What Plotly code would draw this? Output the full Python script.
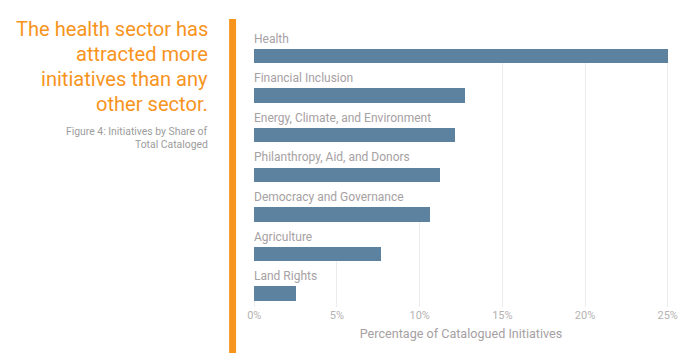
import plotly.graph_objects as go

categories = ["Health", "Financial Inclusion", "Energy, Climate, and Environment",
              "Philanthropy, Aid, and Donors", "Democracy and Governance",
              "Agriculture", "Land Rights"]
values = [25.0, 12.75, 12.15, 11.2, 10.65, 7.65, 2.55]
tick_vals = [0, 5, 10, 15, 20, 25]
tick_text = ["0%", "5%", "10%", "15%", "20%", "25%"]

title_lines = ["The health sector has", "attracted more", "initiatives than any", "other sector."]
caption_lines = ["Figure 4: Initiatives by Share of", "Total Cataloged"]

W, H = 690, 360
ML, MR, MT, MB = 251, 17, 49, 53
PW, PH = W - ML - MR, H - MT - MB

BAR_COLOR = "#5c829f"
LABEL_COLOR = "#a6a1a3"
TICK_COLOR = "#b5b2b2"
ORANGE = "#f7941d"
GRID = "#ececec"

n = len(categories)
pos = [n - 1 - i for i in range(n)]
bar_w = 0.366
xmin, xmax = -0.2, 25.2
ymin, ymax = -0.341, (n - 1) + 0.177

fig = go.Figure()
# white row masks hiding gridlines behind each row (label + bar)
fig.add_trace(go.Bar(
    y=[p + 0.5 - bar_w / 2 for p in pos],
    x=[v - xmin for v in values],
    base=[xmin] * n,
    width=[1.0] * n,
    orientation="h",
    marker=dict(color="white", line=dict(width=0)),
    hoverinfo="skip", showlegend=False,
))
fig.add_trace(go.Bar(
    y=pos, x=values, orientation="h", width=[bar_w] * n,
    marker=dict(color=BAR_COLOR, line=dict(width=0)),
    showlegend=False,
))
fig.update_layout(barmode="overlay")

def px_x(px):
    return (px - ML) / PW

def px_y(py):
    return (H - MB - py) / PH

def data_y_to_paper(v):
    return (v - ymin) / (ymax - ymin)

for c, p in zip(categories, pos):
    fig.add_annotation(x=0, y=data_y_to_paper(p + 0.44), xref="x", yref="paper", text=c,
                       showarrow=False, xanchor="left", yanchor="middle",
                       xshift=-2,
                       font=dict(family="Roboto", size=12, color=LABEL_COLOR))

title_y = [28.5, 53.5, 78.5, 103.5]
for t, yy in zip(title_lines, title_y):
    fig.add_annotation(x=px_x(210), y=px_y(yy), xref="paper", yref="paper",
                       text=t, showarrow=False, xanchor="right", yanchor="middle",
                       font=dict(family="Roboto", size=20.1, color=ORANGE))
cap_y = [131, 144]
for t, yy in zip(caption_lines, cap_y):
    fig.add_annotation(x=px_x(210), y=px_y(yy), xref="paper", yref="paper",
                       text=t, showarrow=False, xanchor="right", yanchor="middle",
                       font=dict(family="Roboto", size=10.4, color="#9c9c9c"))

fig.add_shape(type="rect", xref="paper", yref="paper",
              x0=px_x(229), x1=px_x(236), y0=px_y(353), y1=px_y(19),
              fillcolor=ORANGE, line=dict(width=0), layer="above")

fig.update_xaxes(range=[xmin, xmax], tickvals=tick_vals, ticktext=tick_text,
                 showgrid=True, gridcolor=GRID, gridwidth=1,
                 zeroline=True, zerolinecolor=GRID, zerolinewidth=1,
                 showline=False, ticks="",
                 tickfont=dict(family="Roboto", size=11, color=TICK_COLOR),
                 title=dict(text="Percentage of Catalogued Initiatives",
                            font=dict(family="Roboto", size=12.6, color=LABEL_COLOR),
                            standoff=8))
fig.update_yaxes(range=[ymin, ymax], showgrid=False, zeroline=False,
                 showticklabels=False, ticks="", showline=False)

fig.update_layout(width=W, height=H, margin=dict(l=ML, r=MR, t=MT, b=MB, pad=0),
                  plot_bgcolor="white", paper_bgcolor="white", bargap=0)

fig.write_html("out.html", config={"displayModeBar": False},
               post_script="document.body.style.margin='0';")
